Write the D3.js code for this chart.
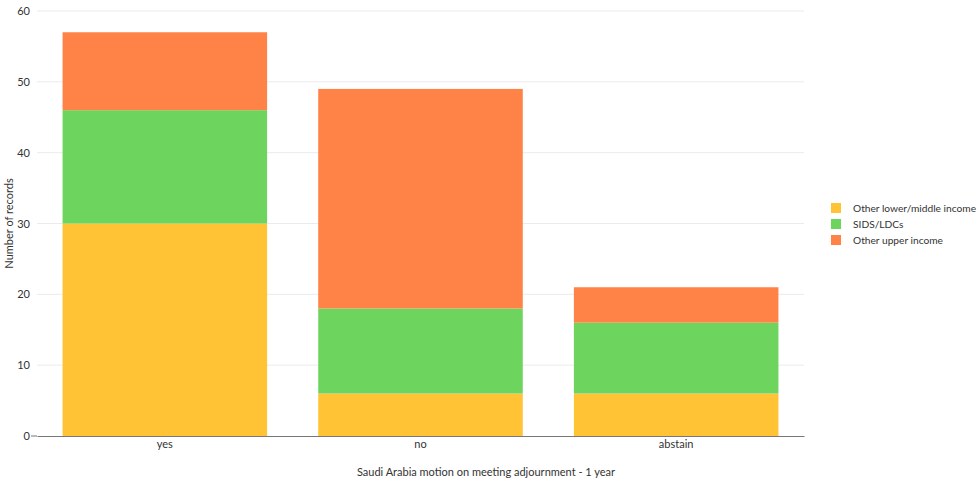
<!DOCTYPE html>
<html><head><meta charset="utf-8">
<script src="https://cdn.jsdelivr.net/npm/d3@7"></script>
<style>body{margin:0;background:#fff;overflow:hidden;} text{font-family:Lato,"Noto Sans",sans-serif;}</style>
</head><body>
<svg id="c" width="980" height="482"></svg>
<script>
const categories = ["yes","no","abstain"];
const seriesNames = ["Other lower/middle income","SIDS/LDCs","Other upper income"];
const lowerMiddle = [30,6,6];
const sids = [16,12,10];
const upper = [11,31,5];
const yTicks = [0,10,20,30,40,50,60];
const colors = ["#ffc335","#6dd55d","#ff8347"];

const svg = d3.select("#c");
const m = {l:37, r:176, t:11, b:46};
const W = 980, H = 482;
const x = d3.scaleBand().domain(categories).range([m.l, W-m.r]).paddingInner(0.2).paddingOuter(0.1);
const y = d3.scaleLinear().domain([0,60]).range([H-m.b, m.t]);

const rows = categories.map((c,i)=>({cat:c, s0:lowerMiddle[i], s1:sids[i], s2:upper[i]}));
const stack = d3.stack().keys(["s0","s1","s2"])(rows);

svg.append("g").selectAll("line").data(yTicks.filter(d=>d>0)).join("line")
  .attr("x1",m.l).attr("x2",W-m.r).attr("y1",d=>y(d)).attr("y2",d=>y(d))
  .attr("stroke","#ebebeb").attr("stroke-width",1);

svg.append("g").selectAll("g").data(stack).join("g").attr("fill",(d,i)=>colors[i])
  .selectAll("rect").data(d=>d).join("rect")
  .attr("x",d=>x(d.data.cat)).attr("width",x.bandwidth())
  .attr("y",d=>y(d[1])).attr("height",d=>y(d[0])-y(d[1]));

const ya = svg.append("g").attr("transform",`translate(${m.l},0)`)
  .call(d3.axisLeft(y).tickValues(yTicks).tickSize(0).tickPadding(7));
ya.select(".domain").remove();
ya.selectAll("text").attr("fill","#333").style("font-size","11px");
svg.append("line").attr("x1",m.l-6).attr("x2",m.l).attr("y1",y(0)).attr("y2",y(0)).attr("stroke","#777");

const xa = svg.append("g").attr("transform",`translate(0,${y(0)})`)
  .call(d3.axisBottom(x).tickSize(0).tickPadding(4));
xa.select(".domain").attr("stroke","#777");
xa.selectAll("text").attr("fill","#333").style("font-size","11px");

svg.append("text").attr("x",486).attr("y",476).attr("text-anchor","middle")
  .attr("fill","#333").style("font-size","11px").text("Saudi Arabia motion on meeting adjournment - 1 year");
svg.append("text").attr("transform",`translate(13,${(m.t+H-m.b)/2}) rotate(-90)`).attr("text-anchor","middle")
  .attr("fill","#333").style("font-size","11px").text("Number of records");

const lg = svg.append("g").attr("transform","translate(831,203)");
seriesNames.forEach((n,i)=>{
  lg.append("rect").attr("x",0).attr("y",i*16).attr("width",10).attr("height",10).attr("fill",colors[i]);
  lg.append("text").attr("x",22).attr("y",i*16+9).attr("fill","#333").style("font-size","10.2px").text(n);
});
</script>
</body></html>
